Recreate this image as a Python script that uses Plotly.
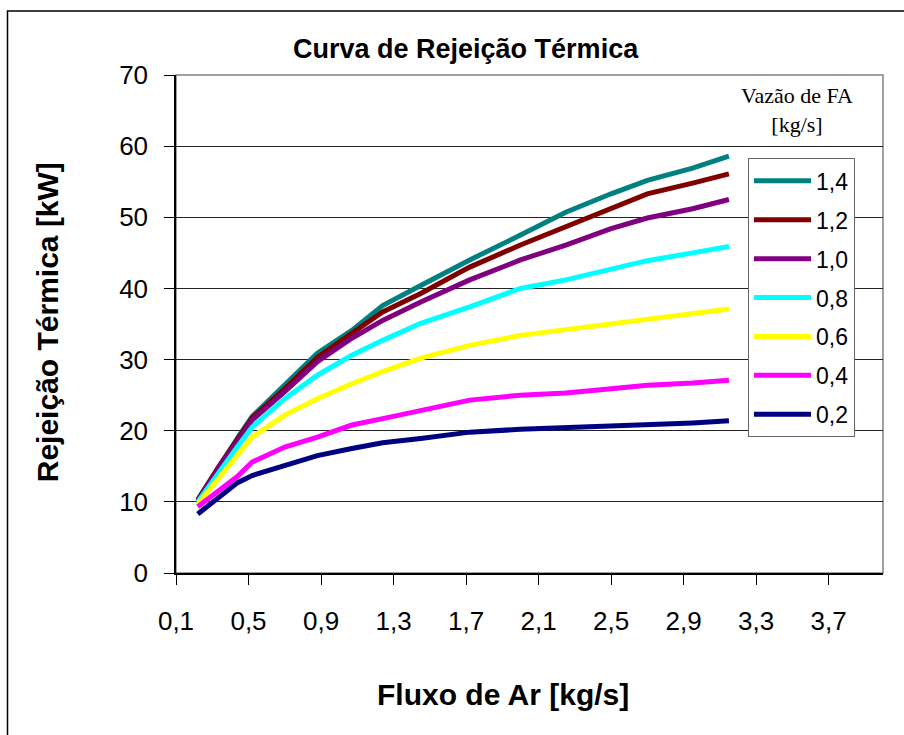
import plotly.graph_objects as go

# ---- data ----
fluxo_ar = [0.22, 0.33, 0.44, 0.52, 0.70, 0.88, 1.07, 1.24, 1.45, 1.72, 2.00, 2.25, 2.50, 2.70, 2.95, 3.15]

serie_labels = ["1,4", "1,2", "1,0", "0,8", "0,6", "0,4", "0,2"]
serie_colors = ["#008080", "#800000", "#800080", "#00FFFF", "#FFFF00", "#FF00FF", "#000080"]

rej_14 = [10.3, 14.8, 19.0, 22.0, 26.4, 30.9, 34.1, 37.6, 40.4, 44.0, 47.5, 50.7, 53.3, 55.2, 56.9, 58.6]
rej_12 = [10.2, 14.7, 18.8, 21.8, 25.9, 30.3, 33.7, 36.7, 39.3, 43.0, 46.1, 48.7, 51.4, 53.3, 54.8, 56.1]
rej_10 = [10.1, 14.6, 18.5, 21.5, 25.5, 29.7, 33.0, 35.5, 38.1, 41.2, 44.0, 46.1, 48.4, 49.9, 51.2, 52.5]
rej_08 = [10.0, 14.0, 17.8, 20.5, 24.5, 27.8, 30.6, 32.7, 35.1, 37.4, 40.0, 41.2, 42.8, 43.9, 45.0, 45.9]
rej_06 = [9.7, 13.1, 16.5, 19.1, 22.2, 24.5, 26.6, 28.3, 30.2, 32.0, 33.4, 34.2, 35.0, 35.6, 36.5, 37.1]
rej_04 = [9.3, 11.4, 13.6, 15.6, 17.7, 19.1, 20.8, 21.7, 22.9, 24.3, 25.0, 25.3, 25.9, 26.4, 26.7, 27.1]
rej_02 = [8.3, 10.6, 12.7, 13.7, 15.1, 16.5, 17.5, 18.3, 18.9, 19.8, 20.2, 20.4, 20.7, 20.9, 21.1, 21.4]

series_values = [rej_14, rej_12, rej_10, rej_08, rej_06, rej_04, rej_02]

x_ticks = [0.1, 0.5, 0.9, 1.3, 1.7, 2.1, 2.5, 2.9, 3.3, 3.7]
x_tick_labels = ["0,1", "0,5", "0,9", "1,3", "1,7", "2,1", "2,5", "2,9", "3,3", "3,7"]
y_ticks = [0, 10, 20, 30, 40, 50, 60, 70]

title_text = "Curva de Rejeição Térmica"
x_title = "Fluxo de Ar [kg/s]"
y_title = "Rejeição Térmica [kW]"
legend_title = "Vazão de FA<br>[kg/s]"

# ---- figure ----
W, H = 904, 735
L, R, T, B = 176, 21, 74.5, 162
PW, PH = W - L - R, H - T - B

def px_x(p):
    return (p - L) / PW

def px_y(p):
    return (H - B - p) / PH

fig = go.Figure()
for i, (lab, col, vals) in enumerate(zip(serie_labels, serie_colors, series_values)):
    fig.add_trace(go.Scatter(
        x=fluxo_ar, y=vals, mode="lines", name=lab,
        line=dict(color=col, width=5),
        legendgroup=f"g{i}",
    ))

sans = "Liberation Sans, Arial, sans-serif"

fig.update_layout(
    width=W, height=H,
    margin=dict(l=L, r=R, t=T, b=B, pad=0),
    paper_bgcolor="white", plot_bgcolor="white",
    showlegend=True,
    font=dict(family=sans, color="black"),
    xaxis=dict(
        range=[0.1, 4.0], tickmode="array", tickvals=x_ticks, ticktext=x_tick_labels,
        showgrid=False, zeroline=False, showline=True, linecolor="black", linewidth=1.5,
        ticks="outside", ticklen=10, tickcolor="black", tickwidth=1,
        tickfont=dict(size=26, family=sans, color="black"),
        ticklabelstandoff=14,
    ),
    yaxis=dict(
        range=[0, 70], tickmode="array", tickvals=y_ticks,
        showgrid=True, gridcolor="#222222", gridwidth=1, zeroline=False,
        showline=True, linecolor="black", linewidth=1.5,
        ticks="outside", ticklen=10, tickcolor="black", tickwidth=1,
        tickfont=dict(size=26, family=sans, color="black"),
        ticklabelstandoff=11,
    ),
    legend=dict(
        x=px_x(748), y=px_y(158), xanchor="left", yanchor="top",
        bgcolor="white", bordercolor="#666666", borderwidth=1,
        font=dict(size=23, family=sans, color="black"),
        tracegroupgap=6, traceorder="grouped", itemwidth=57,
    ),
    shapes=[
        dict(type="rect", xref="paper", yref="paper", x0=0, x1=1, y0=0, y1=1,
             line=dict(color="#808080", width=1.5), fillcolor="rgba(0,0,0,0)", layer="below"),
        dict(type="rect", xref="paper", yref="paper",
             x0=px_x(7.5), x1=px_x(950), y0=px_y(800), y1=px_y(10.5),
             line=dict(color="black", width=1.5), fillcolor="rgba(0,0,0,0)"),
    ],
    annotations=[
        dict(text=f"<b>{title_text}</b>", xref="paper", yref="paper", x=px_x(466), y=px_y(48),
             xanchor="center", yanchor="middle", showarrow=False,
             font=dict(size=27, family=sans, color="black")),
        dict(text=f"<b>{x_title}</b>", xref="paper", yref="paper", x=px_x(503), y=px_y(695),
             xanchor="center", yanchor="middle", showarrow=False,
             font=dict(size=30, family=sans, color="black")),
        dict(text=f"<b>{y_title}</b>", xref="paper", yref="paper", x=px_x(47), y=px_y(322),
             xanchor="center", yanchor="middle", showarrow=False, textangle=-90,
             font=dict(size=30, family=sans, color="black")),
        dict(text=legend_title, xref="paper", yref="paper", x=px_x(797), y=px_y(110),
             xanchor="center", yanchor="middle", showarrow=False, align="center",
             font=dict(size=22, family="Liberation Serif, Times New Roman, serif", color="black")),
    ],
)

fig.write_html("out.html", config={"displayModeBar": False},
               post_script="document.body.style.margin='0px';")
